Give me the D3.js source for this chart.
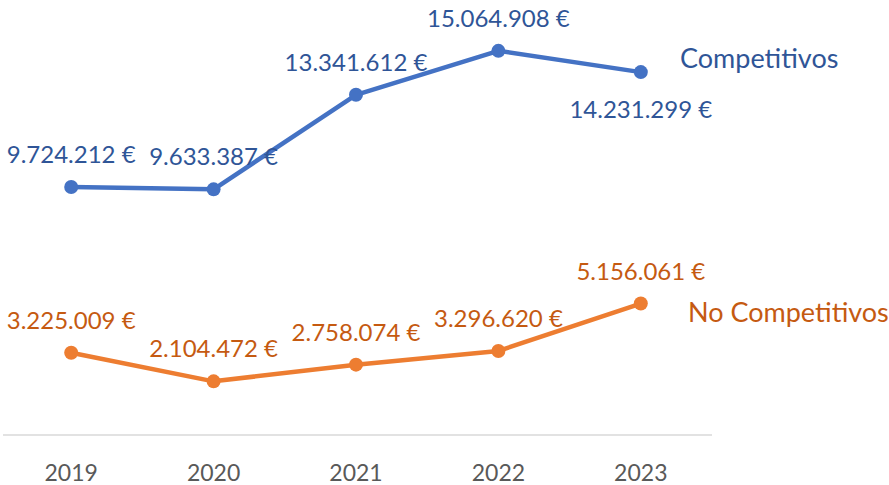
<!DOCTYPE html>
<meta charset="utf-8">
<head>
  <style>
    body { margin: 0; background: #fff; }
    .lbl { font-family: Lato, "Open Sans", sans-serif; font-size: 24px; }
    .name { font-family: Lato, "Open Sans", sans-serif; font-size: 27px; }
    .axis-lbl { font-family: Lato, "Open Sans", sans-serif; font-size: 23px; fill: #595959; }
  </style>
  <script src="https://cdn.jsdelivr.net/npm/d3@7"></script>
</head>
<body>
<script>
// chart data
var years = ["2019", "2020", "2021", "2022", "2023"];
var competitivos = [9724212, 9633387, 13341612, 15064908, 14231299];
var noCompetitivos = [3225009, 2104472, 2758074, 3296620, 5156061];

var width = 889, height = 485;
var svg = d3.select("body").append("svg")
    .attr("width", width)
    .attr("height", height);

var x = d3.scalePoint().domain(years).range([0, 712]).padding(0.5);
var y = d3.scaleLinear().domain([0, 16000000]).range([435, 27]);

var fmt = function(v) {
  return d3.format(",")(v).replace(/,/g, ".") + " €";
};

// axis line
svg.append("line")
    .attr("x1", 3).attr("x2", 712)
    .attr("y1", y(0)).attr("y2", y(0))
    .attr("stroke", "#d9d9d9").attr("stroke-width", 1.5);

svg.selectAll(".axis-lbl")
  .data(years)
  .enter().append("text")
    .attr("class", "axis-lbl")
    .attr("x", function(d) { return x(d); })
    .attr("y", 481)
    .attr("text-anchor", "middle")
    .text(function(d) { return d; });

var series = [
  { name: "Competitivos", values: competitivos, line: "#4472c4", text: "#2f5597", below: [4], nameX: 680, nameDy: -4 },
  { name: "No Competitivos", values: noCompetitivos, line: "#ed7d31", text: "#c55a11", below: [], nameX: 688, nameDy: 18 }
];

var line = d3.line()
    .x(function(d, i) { return x(years[i]); })
    .y(function(d) { return y(d); });

series.forEach(function(s) {
  svg.append("path")
      .datum(s.values)
      .attr("d", line)
      .attr("fill", "none")
      .attr("stroke", s.line)
      .attr("stroke-width", 4.5)
      .attr("stroke-linejoin", "round");

  svg.selectAll(null)
    .data(s.values)
    .enter().append("circle")
      .attr("cx", function(d, i) { return x(years[i]); })
      .attr("cy", function(d) { return y(d); })
      .attr("r", 7)
      .attr("fill", s.line);

  svg.selectAll(null)
    .data(s.values)
    .enter().append("text")
      .attr("class", "lbl")
      .attr("fill", s.text)
      .attr("text-anchor", "middle")
      .attr("x", function(d, i) { return x(years[i]); })
      .attr("y", function(d, i) {
        return s.below.indexOf(i) >= 0 ? y(d) + 46 : y(d) - 24;
      })
      .text(function(d) { return fmt(d); });

  var last = s.values[s.values.length - 1];
  svg.append("text")
      .attr("class", "name")
      .attr("fill", s.text)
      .attr("x", s.nameX)
      .attr("y", y(last) + s.nameDy)
      .text(s.name);
});
</script>
</body>
